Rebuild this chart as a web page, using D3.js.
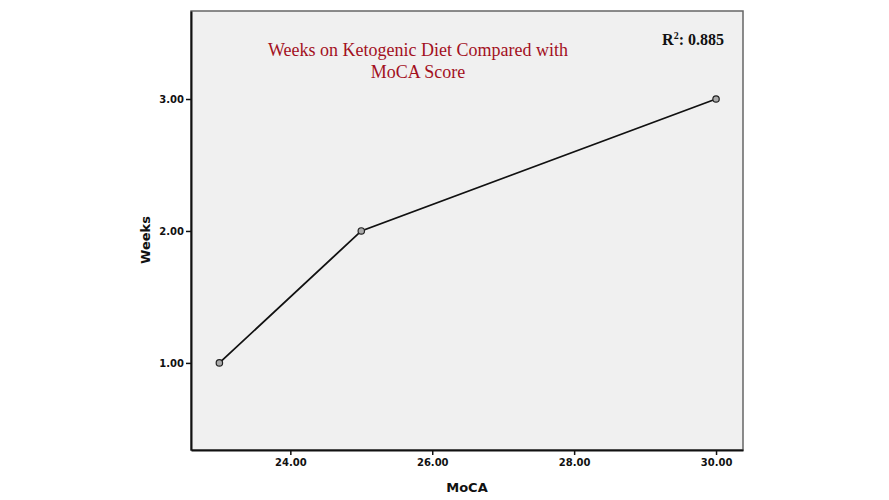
<!DOCTYPE html>
<html>
<head>
<meta charset="utf-8">
<script src="https://cdn.jsdelivr.net/npm/d3@7"></script>
<style>
  body { margin: 0; background: #fff; }
  svg { display: block; }
</style>
</head>
<body>
<svg id="chart" width="889" height="500"></svg>
<script>
'use strict';

// data
var moca = [23, 25, 30];
var weeks = [1, 2, 3];
var xTicks = [24, 26, 28, 30];
var yTicks = [1, 2, 3];
var titleLines = ['Weeks on Ketogenic Diet Compared with', 'MoCA Score'];
var rSquared = '0.885';

var svg = d3.select('#chart');
var plotL = 191, plotR = 743, plotT = 11, plotB = 450;

var x = d3.scaleLinear().domain([22.6, 30.38]).range([plotL, plotR]);
var y = d3.scaleLinear().domain([0.34, 3.667]).range([plotB, plotT]);

// plot background + frame
svg.append('rect')
    .attr('x', plotL).attr('y', plotT)
    .attr('width', plotR - plotL).attr('height', plotB - plotT)
    .attr('fill', '#f0f0f0')
    .attr('stroke', '#666').attr('stroke-width', 1.5);

var xAxis = svg.append('g')
    .attr('transform', 'translate(0,' + plotB + ')')
    .call(d3.axisBottom(x).tickValues(xTicks).tickSize(5).tickSizeOuter(0).tickPadding(4)
        .tickFormat(d3.format('.2f')));

var yAxis = svg.append('g')
    .attr('transform', 'translate(' + plotL + ',0)')
    .call(d3.axisLeft(y).tickValues(yTicks).tickSize(5).tickSizeOuter(0).tickPadding(2)
        .tickFormat(d3.format('.2f')));

[xAxis, yAxis].forEach(function(a) {
    a.select('.domain').attr('stroke', '#111').attr('stroke-width', 2);
    a.selectAll('.tick line').attr('stroke', '#111').attr('stroke-width', 1.5);
    a.selectAll('.tick text')
        .attr('fill', '#111')
        .style('font-family', 'DejaVu Sans, sans-serif')
        .style('font-size', '10px')
        .style('font-weight', 'bold');
});

// line + markers
var pts = moca.map(function(m, i) { return [m, weeks[i]]; });

svg.append('path')
    .datum(pts)
    .attr('fill', 'none')
    .attr('stroke', '#111')
    .attr('stroke-width', 1.8)
    .attr('d', d3.line().x(function(d) { return x(d[0]); }).y(function(d) { return y(d[1]); }));

svg.append('g').selectAll('circle')
    .data(pts)
    .enter().append('circle')
        .attr('cx', function(d) { return x(d[0]); })
        .attr('cy', function(d) { return y(d[1]); })
        .attr('r', 3.2)
        .attr('fill', '#aaa')
        .attr('stroke', '#222')
        .attr('stroke-width', 1.2);

// title
svg.append('text')
    .attr('x', 418).attr('y', 56)
    .attr('text-anchor', 'middle')
    .attr('fill', '#a3101e')
    .style('font-family', 'Liberation Serif, serif')
    .style('font-size', '18px')
    .selectAll('tspan')
    .data(titleLines)
    .enter().append('tspan')
        .attr('x', 418)
        .attr('dy', function(d, i) { return i === 0 ? 0 : 22; })
        .text(function(d) { return d; });

// R squared
var r2 = svg.append('text')
    .attr('x', 724).attr('y', 45)
    .attr('text-anchor', 'end')
    .attr('fill', '#111')
    .style('font-family', 'Liberation Serif, serif')
    .style('font-size', '16px')
    .style('font-weight', 'bold');
r2.append('tspan').text('R');
r2.append('tspan').attr('dy', -6).style('font-size', '10px').text('2');
r2.append('tspan').attr('dy', 6).text(': ' + rSquared);

// axis titles
svg.append('text')
    .attr('x', 467).attr('y', 492)
    .attr('text-anchor', 'middle')
    .attr('fill', '#111')
    .style('font-family', 'DejaVu Sans, sans-serif')
    .style('font-size', '13px')
    .style('font-weight', 'bold')
    .text('MoCA');

svg.append('text')
    .attr('transform', 'translate(150,240) rotate(-90)')
    .attr('text-anchor', 'middle')
    .attr('fill', '#111')
    .style('font-family', 'DejaVu Sans, sans-serif')
    .style('font-size', '13px')
    .style('font-weight', 'bold')
    .text('Weeks');
</script>
</body>
</html>
